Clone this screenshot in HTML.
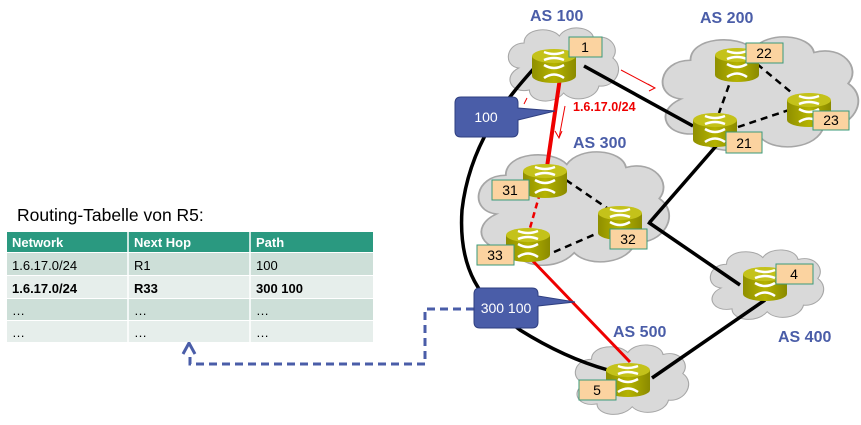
<!DOCTYPE html>
<html><head><meta charset="utf-8"><style>
body{margin:0;background:#fff;width:861px;height:420px;overflow:hidden;font-family:"Liberation Sans",Arial,sans-serif}
</style></head><body>
<svg width="861" height="420" viewBox="0 0 861 420" xmlns="http://www.w3.org/2000/svg" font-family="Liberation Sans, Arial, sans-serif">
<defs>
<linearGradient id="rg" x1="0" x2="1"><stop offset="0" stop-color="#8f8f00"/><stop offset="0.5" stop-color="#b5b300"/><stop offset="1" stop-color="#8a8a00"/></linearGradient>
<g id="r">
<path d="M-22,0 L-22,20 A22,7 0 0 0 22,20 L22,0 Z" fill="url(#rg)"/>
<ellipse cx="0" cy="0" rx="22" ry="7" fill="#c4c21a"/>
<path d="M-10,-4 Q0,0 10,-4 M-10,4 Q0,0 10,4 M-10,9 Q0,15 10,9 M-10,22 Q0,15 10,22" stroke="#fff" stroke-width="2.5" fill="none"/>
</g>
<g id="c"><path d="M10,40 C-5,38 -2,15 15,15 C15,0 40,-2 48,8 C55,-4 78,-2 80,10 C95,5 105,20 98,30 C110,40 100,60 85,58 C82,72 60,75 52,65 C42,78 20,74 20,62 C2,66 -5,48 10,40 Z" fill="#d9d9d9" stroke="#a6a6a6" stroke-width="1"/></g>
</defs>
<use href="#c" transform="translate(508,28) scale(1.07,1.0)"/>
<use href="#c" transform="translate(662,37) scale(1.9,1.55)"/>
<use href="#c" transform="translate(478,152) scale(1.85,1.55)"/>
<use href="#c" transform="translate(710,250) scale(1.1,0.95)"/>
<use href="#c" transform="translate(575,345) scale(1.1,0.95)"/>
<g font-weight="bold" font-size="16" fill="#4a5da8">
<text x="530" y="21">AS 100</text><text x="700" y="23">AS 200</text>
<text x="573" y="148">AS 300</text><text x="613" y="337">AS 500</text><text x="778" y="342">AS 400</text>
</g>
<g stroke="#000" stroke-width="3.5" fill="none">
<path d="M584,66 L693,126"/>
<path d="M717,145 L650,222"/>
<path d="M648,222 L740,285"/>
<path d="M765,300 L652,378"/>
<path d="M537,65 C510,95 470,140 462,210 C458,270 480,300 520,330 C560,355 590,365 608,370"/>
</g>
<g stroke="#000" stroke-width="2.5" stroke-dasharray="7,5" fill="none">
<path d="M566,180 L607,208"/><path d="M554,252 L598,233"/>
<path d="M733,74 L719,113"/><path d="M757,64 L792,93"/><path d="M738,127 L789,110"/>
</g>
<path d="M560,78 L547,167" stroke="#ee0000" stroke-width="4"/>
<path d="M540,193 L530,228" stroke="#ee0000" stroke-width="2.5" stroke-dasharray="6,4"/>
<path d="M530,258 L630,362" stroke="#ee0000" stroke-width="3"/>
<g stroke="#ee0000" stroke-width="1" fill="none">
<path d="M621,70 L655,88 M648,84 L655,88 L649,91"/>
<path d="M565,106 L559,138 M555,131 L559,138 L562,131"/>
<path d="M527,98 L524,104 M522,114 L519,118"/>
</g>
<text x="573" y="111" font-size="12.5" font-weight="bold" fill="#ee0000">1.6.17.0/24</text>
<use href="#r" x="554" y="56"/><use href="#r" x="737" y="55"/><use href="#r" x="809" y="100"/>
<use href="#r" x="715" y="120"/><use href="#r" x="545" y="171"/><use href="#r" x="620" y="213"/>
<use href="#r" x="528" y="235"/><use href="#r" x="765" y="274"/><use href="#r" x="628" y="370"/>
<g fill="#fbd3a0" stroke="#3a9a7a" stroke-width="1">
<rect x="569" y="37" width="33" height="20"/><rect x="746" y="43" width="37" height="20"/>
<rect x="813" y="111" width="36" height="19"/><rect x="726" y="132" width="36" height="21"/>
<rect x="492" y="180" width="37" height="20"/><rect x="610" y="229" width="37" height="20"/>
<rect x="477" y="245" width="37" height="20"/><rect x="776" y="264" width="37" height="20"/>
<rect x="579" y="380" width="37" height="20"/>
</g>
<g font-size="14" fill="#000" text-anchor="middle">
<text x="585" y="52">1</text><text x="764" y="58">22</text><text x="831" y="125">23</text>
<text x="744" y="148">21</text><text x="510" y="195">31</text><text x="628" y="244">32</text>
<text x="495" y="260">33</text><text x="794" y="279">4</text><text x="597" y="395">5</text>
</g>
<path d="M474,309 L425,309 L425,364 L190,364 L190,352" stroke="#4a5da8" stroke-width="3" stroke-dasharray="8,5" fill="none"/>
<path d="M183,354 L189,343 L195,354" stroke="#4a5da8" stroke-width="3" fill="none"/>
<path d="M461,97 L512,97 Q518,97 518,103 L518,108 L555,111 L518,120 L518,131 Q518,137 512,137 L461,137 Q455,137 455,131 L455,103 Q455,97 461,97 Z" fill="#4a5da8" stroke="#2f3f80"/>
<text x="486" y="122" font-size="14" fill="#fff" text-anchor="middle">100</text>
<path d="M480,288 L532,288 Q538,288 538,294 L538,296 L575,302 L538,306 L538,322 Q538,328 532,328 L480,328 Q474,328 474,322 L474,294 Q474,288 480,288 Z" fill="#4a5da8" stroke="#2f3f80"/>
<text x="506" y="313" font-size="14" fill="#fff" text-anchor="middle">300 100</text>
<text x="17" y="221" font-size="17.5" fill="#000">Routing-Tabelle von R5:</text>
<rect x="7" y="232" width="366" height="20" fill="#2a9980"/>
<rect x="7" y="253" width="366" height="22" fill="#cddfd8"/>
<rect x="7" y="276" width="366" height="22" fill="#e6eeeb"/>
<rect x="7" y="299" width="366" height="21" fill="#cddfd8"/>
<rect x="7" y="321" width="366" height="21" fill="#e6eeeb"/>
<path d="M128,232 V342 M250,232 V342" stroke="#fff" stroke-width="1.5"/>
<g font-size="13">
<g fill="#fff" font-weight="bold"><text x="12" y="247">Network</text><text x="134" y="247">Next Hop</text><text x="256" y="247">Path</text></g>
<text x="12" y="270">1.6.17.0/24</text><text x="134" y="270">R1</text><text x="256" y="270">100</text>
<g font-weight="bold"><text x="12" y="293">1.6.17.0/24</text><text x="134" y="293">R33</text><text x="256" y="293">300 100</text></g>
<text x="12" y="315">…</text><text x="134" y="315">…</text><text x="256" y="315">…</text>
<text x="12" y="337">…</text><text x="134" y="337">…</text><text x="256" y="337">…</text>
</g>
</svg>
</body></html>
